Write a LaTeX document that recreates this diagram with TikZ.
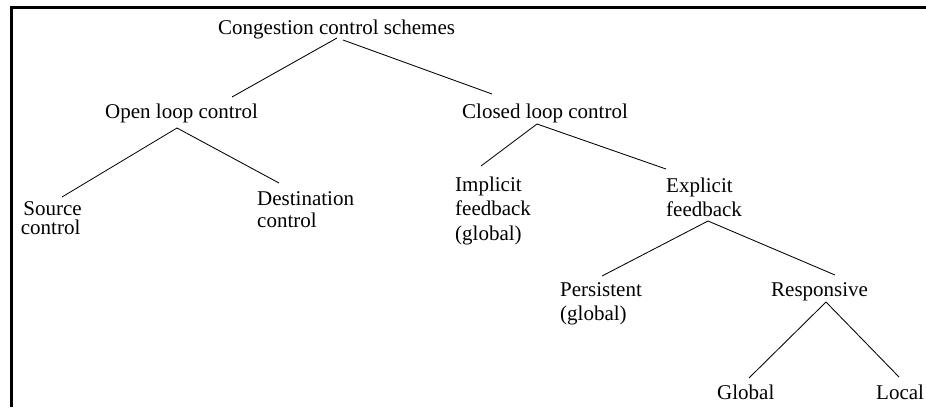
\documentclass[tikz,border=0pt]{standalone}
\usepackage{fontspec}
\setmainfont{Liberation Serif}
\begin{document}
\begin{tikzpicture}[x=1pt,y=-1pt,
  lbl/.style={inner sep=0pt, anchor=base west, align=left, font=\fontsize{21}{24.5}\selectfont},
  edge/.style={line width=0.85pt},
  frame/.style={line width=2.8pt}]
\useasboundingbox (0,0) rectangle (926,407);
% frame
\coordinate (frTR) at (926,7.3);
\coordinate (frTL) at (11.7,7.3);
\coordinate (frBL) at (11.7,407);
\draw[frame] (frTR) -- (frTL) -- (frBL);
% labels (multi-line labels are placed by the baseline of their last line)
\node[lbl] (root) at (218,34) {Congestion control schemes};
\node[lbl] (open) at (105,118) {Open loop control};
\node[lbl] (closed) at (462,118) {Closed loop control};
\node[lbl] (source) at (20.7,234.5) {\hspace*{2.5pt}Source\\[-5.5pt]control};
\node[lbl] (dest) at (257,227) {Destination\\[-2.5pt]control};
\node[lbl] (impl) at (455,240) {Implicit\\feedback\\(global)};
\node[lbl] (expl) at (666,216) {Explicit\\[-0.5pt]feedback};
\node[lbl] (pers) at (560,320) {Persistent\\[-0.5pt](global)};
\node[lbl] (resp) at (771,296) {Responsive};
\node[lbl] (glob) at (717,399) {Global};
\node[lbl] (loc) at (876,399) {Local};
% connector ends
\coordinate (rootA) at (337,38);
\coordinate (rootB) at (343,40);
\coordinate (openIn) at (232,97);
\coordinate (closedIn) at (492,94);
\coordinate (openOut) at (177,128);
\coordinate (sourceIn) at (62,197);
\coordinate (destIn) at (279,183);
\coordinate (closedOut) at (537,124);
\coordinate (implIn) at (481,166);
\coordinate (explIn) at (666,169);
\coordinate (explOut) at (708,221);
\coordinate (persIn) at (602,276);
\coordinate (respIn) at (835,275);
\coordinate (respOut) at (826,302);
\coordinate (globIn) at (749,378);
\coordinate (locIn) at (899,377);
% connectors
\draw[edge] (rootA) -- (openIn);
\draw[edge] (rootB) -- (closedIn);
\draw[edge] (openOut) -- (sourceIn);
\draw[edge] (openOut) -- (destIn);
\draw[edge] (closedOut) -- (implIn);
\draw[edge] (closedOut) -- (explIn);
\draw[edge] (explOut) -- (persIn);
\draw[edge] (explOut) -- (respIn);
\draw[edge] (respOut) -- (globIn);
\draw[edge] (respOut) -- (locIn);
\end{tikzpicture}
\end{document}
